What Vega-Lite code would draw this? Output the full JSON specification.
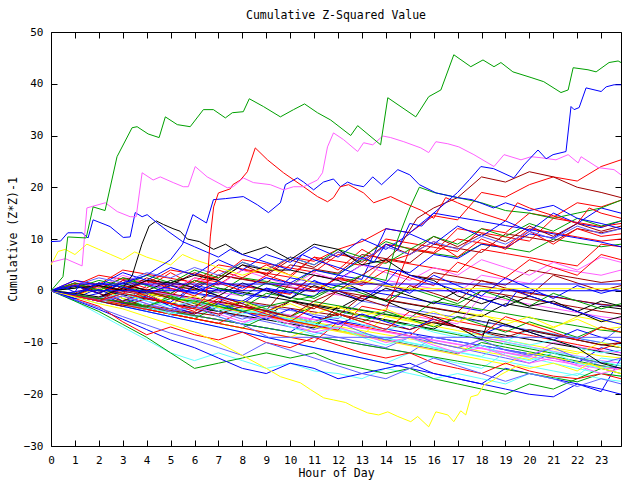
{
"$schema":"https://vega.github.io/schema/vega-lite/v6.json",
"width":570,"height":414,
"autosize":{"type":"none"},
"padding":{"left":51,"top":32,"right":19,"bottom":34},
"background":"#ffffff",
"title":{"text":"Cumulative Z-Squared Value","font":"DejaVu Sans Mono","fontSize":11.5,"fontWeight":"normal","color":"#000000","anchor":"middle","offset":5},
"config":{"view":{"stroke":"#000000","strokeWidth":1},
"axis":{"domain":false,"grid":false,"ticks":true,"tickSize":-6,"tickColor":"#000000","tickWidth":1,"labelFont":"DejaVu Sans Mono","labelFontSize":11,"labelColor":"#000000","labelPadding":14,"labelFlush":false,"labelOverlap":false,"titleFont":"DejaVu Sans Mono","titleFontSize":11.5,"titleFontWeight":"normal","titleColor":"#000000"}},
"data":{"values":[
{"s":"x1","h":0,"v":0},{"s":"x1","h":1,"v":-0.8},{"s":"x1","h":2,"v":-1.5},{"s":"x1","h":3,"v":0.5},{"s":"x1","h":4,"v":-0.2},{"s":"x1","h":5,"v":-1},{"s":"x1","h":6,"v":2},{"s":"x1","h":7,"v":1.2},{"s":"x1","h":8,"v":4},{"s":"x1","h":9,"v":3.3},{"s":"x1","h":10,"v":6.5},{"s":"x1","h":11,"v":5.7},{"s":"x1","h":12,"v":8},{"s":"x1","h":13,"v":9.5},{"s":"x1","h":14,"v":12},{"s":"x1","h":15,"v":11.2},{"s":"x1","h":16,"v":14.5},{"s":"x1","h":17,"v":13.7},{"s":"x1","h":18,"v":19},{"s":"x1","h":19,"v":18.1},{"s":"x1","h":20,"v":20.5},{"s":"x1","h":21,"v":22},{"s":"x1","h":22,"v":21.2},{"s":"x1","h":23,"v":24},{"s":"x1","h":23.83,"v":25.3},
{"s":"x2","h":0,"v":0},{"s":"x2","h":1,"v":1},{"s":"x2","h":2,"v":0.2},{"s":"x2","h":3,"v":-0.5},{"s":"x2","h":4,"v":-1.3},{"s":"x2","h":5,"v":1},{"s":"x2","h":6,"v":0.3},{"s":"x2","h":7,"v":-0.4},{"s":"x2","h":8,"v":2.5},{"s":"x2","h":9,"v":1.8},{"s":"x2","h":10,"v":1},{"s":"x2","h":11,"v":4},{"s":"x2","h":12,"v":3.2},{"s":"x2","h":13,"v":6},{"s":"x2","h":14,"v":5.3},{"s":"x2","h":15,"v":8},{"s":"x2","h":16,"v":7.2},{"s":"x2","h":17,"v":6.5},{"s":"x2","h":18,"v":9},{"s":"x2","h":19,"v":8.3},{"s":"x2","h":20,"v":7.5},{"s":"x2","h":21,"v":10},{"s":"x2","h":22,"v":9.2},{"s":"x2","h":23,"v":8.5},{"s":"x2","h":23.83,"v":9},
{"s":"x3","h":0,"v":0},{"s":"x3","h":1,"v":-0.9},{"s":"x3","h":2,"v":-1.7},{"s":"x3","h":3,"v":-2.5},{"s":"x3","h":4,"v":0},{"s":"x3","h":5,"v":-0.7},{"s":"x3","h":6,"v":-1.5},{"s":"x3","h":7,"v":-2.3},{"s":"x3","h":8,"v":1},{"s":"x3","h":9,"v":0.2},{"s":"x3","h":10,"v":-0.5},{"s":"x3","h":11,"v":3},{"s":"x3","h":12,"v":2.2},{"s":"x3","h":13,"v":5},{"s":"x3","h":14,"v":4.3},{"s":"x3","h":15,"v":3.5},{"s":"x3","h":16,"v":7},{"s":"x3","h":17,"v":6.2},{"s":"x3","h":18,"v":9},{"s":"x3","h":19,"v":8.3},{"s":"x3","h":20,"v":11},{"s":"x3","h":21,"v":10.2},{"s":"x3","h":22,"v":13},{"s":"x3","h":23,"v":12.2},{"s":"x3","h":23.83,"v":13.5},
{"s":"x4","h":0,"v":0},{"s":"x4","h":1,"v":0.8},{"s":"x4","h":2,"v":0},{"s":"x4","h":3,"v":-0.8},{"s":"x4","h":4,"v":2},{"s":"x4","h":5,"v":1.3},{"s":"x4","h":6,"v":0.5},{"s":"x4","h":7,"v":-0.3},{"s":"x4","h":8,"v":-1},{"s":"x4","h":9,"v":1.5},{"s":"x4","h":10,"v":0.8},{"s":"x4","h":11,"v":0},{"s":"x4","h":12,"v":-0.8},{"s":"x4","h":13,"v":-1.6},{"s":"x4","h":14,"v":2},{"s":"x4","h":15,"v":1.2},{"s":"x4","h":16,"v":0.4},{"s":"x4","h":17,"v":-0.4},{"s":"x4","h":18,"v":3},{"s":"x4","h":19,"v":2.2},{"s":"x4","h":20,"v":1.4},{"s":"x4","h":21,"v":4.5},{"s":"x4","h":22,"v":3.7},{"s":"x4","h":23,"v":3},{"s":"x4","h":23.83,"v":4},
{"s":"x5","h":0,"v":0},{"s":"x5","h":1,"v":-0.9},{"s":"x5","h":2,"v":-1.8},{"s":"x5","h":3,"v":-2.6},{"s":"x5","h":4,"v":-3.4},{"s":"x5","h":5,"v":-4.2},{"s":"x5","h":6,"v":-5},{"s":"x5","h":7,"v":-3},{"s":"x5","h":8,"v":-3.8},{"s":"x5","h":9,"v":-4.6},{"s":"x5","h":10,"v":-5.4},{"s":"x5","h":11,"v":-6.2},{"s":"x5","h":12,"v":-7},{"s":"x5","h":13,"v":-5},{"s":"x5","h":14,"v":-5.8},{"s":"x5","h":15,"v":-6.6},{"s":"x5","h":16,"v":-7.4},{"s":"x5","h":17,"v":-8.2},{"s":"x5","h":18,"v":-9},{"s":"x5","h":19,"v":-9.8},{"s":"x5","h":20,"v":-7.5},{"s":"x5","h":21,"v":-8.3},{"s":"x5","h":22,"v":-9.1},{"s":"x5","h":23,"v":-10},{"s":"x5","h":23.83,"v":-10.5},
{"s":"x6","h":0,"v":0},{"s":"x6","h":1,"v":1.2},{"s":"x6","h":2,"v":0.4},{"s":"x6","h":3,"v":2.5},{"s":"x6","h":4,"v":1.8},{"s":"x6","h":5,"v":1},{"s":"x6","h":6,"v":0.2},{"s":"x6","h":7,"v":3},{"s":"x6","h":8,"v":2.3},{"s":"x6","h":9,"v":1.5},{"s":"x6","h":10,"v":5},{"s":"x6","h":11,"v":4.2},{"s":"x6","h":12,"v":3.4},{"s":"x6","h":13,"v":7},{"s":"x6","h":14,"v":6.2},{"s":"x6","h":15,"v":5.4},{"s":"x6","h":16,"v":9},{"s":"x6","h":17,"v":8.2},{"s":"x6","h":18,"v":7.4},{"s":"x6","h":19,"v":11},{"s":"x6","h":20,"v":10.3},{"s":"x6","h":21,"v":9.5},{"s":"x6","h":22,"v":12},{"s":"x6","h":23,"v":11.2},{"s":"x6","h":23.83,"v":12},
{"s":"x7","h":0,"v":0},{"s":"x7","h":1,"v":-0.8},{"s":"x7","h":2,"v":-1.6},{"s":"x7","h":3,"v":-2.4},{"s":"x7","h":4,"v":-3.2},{"s":"x7","h":5,"v":-1},{"s":"x7","h":6,"v":-1.8},{"s":"x7","h":7,"v":-2.6},{"s":"x7","h":8,"v":-3.4},{"s":"x7","h":9,"v":-4.2},{"s":"x7","h":10,"v":-5},{"s":"x7","h":11,"v":-2.5},{"s":"x7","h":12,"v":-3.3},{"s":"x7","h":13,"v":-4.1},{"s":"x7","h":14,"v":-4.9},{"s":"x7","h":15,"v":-5.7},{"s":"x7","h":16,"v":-6.5},{"s":"x7","h":17,"v":-4},{"s":"x7","h":18,"v":-4.8},{"s":"x7","h":19,"v":-5.6},{"s":"x7","h":20,"v":-6.4},{"s":"x7","h":21,"v":-7.2},{"s":"x7","h":22,"v":-5},{"s":"x7","h":23,"v":-5.8},{"s":"x7","h":23.83,"v":-6.3},
{"s":"x8","h":0,"v":0},{"s":"x8","h":1,"v":-0.8},{"s":"x8","h":2,"v":1},{"s":"x8","h":3,"v":0.2},{"s":"x8","h":4,"v":-0.6},{"s":"x8","h":5,"v":-1.4},{"s":"x8","h":6,"v":-2.2},{"s":"x8","h":7,"v":0.5},{"s":"x8","h":8,"v":-0.3},{"s":"x8","h":9,"v":-1.1},{"s":"x8","h":10,"v":-1.9},{"s":"x8","h":11,"v":-2.7},{"s":"x8","h":12,"v":-3.5},{"s":"x8","h":13,"v":-1},{"s":"x8","h":14,"v":-1.8},{"s":"x8","h":15,"v":-2.6},{"s":"x8","h":16,"v":-3.4},{"s":"x8","h":17,"v":-4.2},{"s":"x8","h":18,"v":-5},{"s":"x8","h":19,"v":-2.5},{"s":"x8","h":20,"v":-3.3},{"s":"x8","h":21,"v":-4.1},{"s":"x8","h":22,"v":-4.9},{"s":"x8","h":23,"v":-3},{"s":"x8","h":23.83,"v":-3.5},
{"s":"x9","h":0,"v":0},{"s":"x9","h":1,"v":-1},{"s":"x9","h":2,"v":-2},{"s":"x9","h":3,"v":-3},{"s":"x9","h":4,"v":-4},{"s":"x9","h":5,"v":-5},{"s":"x9","h":6,"v":-3},{"s":"x9","h":7,"v":-4},{"s":"x9","h":8,"v":-5},{"s":"x9","h":9,"v":-6},{"s":"x9","h":10,"v":-7},{"s":"x9","h":11,"v":-8},{"s":"x9","h":12,"v":-9},{"s":"x9","h":13,"v":-10},{"s":"x9","h":14,"v":-11},{"s":"x9","h":15,"v":-9},{"s":"x9","h":16,"v":-10},{"s":"x9","h":17,"v":-11},{"s":"x9","h":18,"v":-12},{"s":"x9","h":19,"v":-13},{"s":"x9","h":20,"v":-14},{"s":"x9","h":21,"v":-12},{"s":"x9","h":22,"v":-13},{"s":"x9","h":23,"v":-14.5},{"s":"x9","h":23.83,"v":-15},
{"s":"x10","h":0,"v":0},{"s":"x10","h":1,"v":-0.8},{"s":"x10","h":2,"v":-1.6},{"s":"x10","h":3,"v":1},{"s":"x10","h":4,"v":0.2},{"s":"x10","h":5,"v":-0.6},{"s":"x10","h":6,"v":2.5},{"s":"x10","h":7,"v":1.7},{"s":"x10","h":8,"v":0.9},{"s":"x10","h":9,"v":0.1},{"s":"x10","h":10,"v":-0.7},{"s":"x10","h":11,"v":3},{"s":"x10","h":12,"v":2.2},{"s":"x10","h":13,"v":1.4},{"s":"x10","h":14,"v":6},{"s":"x10","h":15,"v":5.2},{"s":"x10","h":16,"v":4.4},{"s":"x10","h":17,"v":3.6},{"s":"x10","h":18,"v":8},{"s":"x10","h":19,"v":7.2},{"s":"x10","h":20,"v":6.4},{"s":"x10","h":21,"v":5.6},{"s":"x10","h":22,"v":4.8},{"s":"x10","h":23,"v":9},{"s":"x10","h":23.83,"v":8.5},
{"s":"x11","h":0,"v":0},{"s":"x11","h":1,"v":-0.9},{"s":"x11","h":2,"v":-1.8},{"s":"x11","h":3,"v":-2.7},{"s":"x11","h":4,"v":-3.6},{"s":"x11","h":5,"v":-4.5},{"s":"x11","h":6,"v":-5.4},{"s":"x11","h":7,"v":-6.3},{"s":"x11","h":8,"v":-7.2},{"s":"x11","h":9,"v":-5},{"s":"x11","h":10,"v":-5.9},{"s":"x11","h":11,"v":-6.8},{"s":"x11","h":12,"v":-7.7},{"s":"x11","h":13,"v":-8.6},{"s":"x11","h":14,"v":-9.5},{"s":"x11","h":15,"v":-10.4},{"s":"x11","h":16,"v":-11.3},{"s":"x11","h":17,"v":-12.2},{"s":"x11","h":18,"v":-10},{"s":"x11","h":19,"v":-10.9},{"s":"x11","h":20,"v":-11.8},{"s":"x11","h":21,"v":-12.7},{"s":"x11","h":22,"v":-13.6},{"s":"x11","h":23,"v":-14.5},{"s":"x11","h":23.83,"v":-15},
{"s":"x12","h":0,"v":0},{"s":"x12","h":1,"v":-0.8},{"s":"x12","h":2,"v":-1.6},{"s":"x12","h":3,"v":-2.4},{"s":"x12","h":4,"v":-3.2},{"s":"x12","h":5,"v":-4},{"s":"x12","h":6,"v":-4.8},{"s":"x12","h":7,"v":-5.6},{"s":"x12","h":8,"v":-6.4},{"s":"x12","h":9,"v":-7.2},{"s":"x12","h":10,"v":-8},{"s":"x12","h":11,"v":-5},{"s":"x12","h":12,"v":-5.8},{"s":"x12","h":13,"v":-6.6},{"s":"x12","h":14,"v":-7.4},{"s":"x12","h":15,"v":-8.2},{"s":"x12","h":16,"v":-9},{"s":"x12","h":17,"v":-9.8},{"s":"x12","h":18,"v":-10.6},{"s":"x12","h":19,"v":-11.4},{"s":"x12","h":20,"v":-12.2},{"s":"x12","h":21,"v":-13},{"s":"x12","h":22,"v":-14},{"s":"x12","h":23,"v":-11},{"s":"x12","h":23.83,"v":-12},
{"s":"x13","h":0,"v":0},{"s":"x13","h":1,"v":-0.9},{"s":"x13","h":2,"v":-1.8},{"s":"x13","h":3,"v":-2.7},{"s":"x13","h":4,"v":-3.6},{"s":"x13","h":5,"v":-1.5},{"s":"x13","h":6,"v":-2.4},{"s":"x13","h":7,"v":-3.3},{"s":"x13","h":8,"v":-4.2},{"s":"x13","h":9,"v":-5.1},{"s":"x13","h":10,"v":-6},{"s":"x13","h":11,"v":-6.9},{"s":"x13","h":12,"v":-7.8},{"s":"x13","h":13,"v":-8.7},{"s":"x13","h":14,"v":-9.6},{"s":"x13","h":15,"v":-10.5},{"s":"x13","h":16,"v":-11.4},{"s":"x13","h":17,"v":-12.3},{"s":"x13","h":18,"v":-9},{"s":"x13","h":19,"v":-9.9},{"s":"x13","h":20,"v":-10.8},{"s":"x13","h":21,"v":-11.7},{"s":"x13","h":22,"v":-12.6},{"s":"x13","h":23,"v":-13.5},{"s":"x13","h":23.83,"v":-14},
{"s":"x14","h":0,"v":0},{"s":"x14","h":1,"v":-1},{"s":"x14","h":2,"v":-2},{"s":"x14","h":3,"v":-3},{"s":"x14","h":4,"v":-4},{"s":"x14","h":5,"v":-5},{"s":"x14","h":6,"v":-6},{"s":"x14","h":7,"v":-7},{"s":"x14","h":8,"v":-8},{"s":"x14","h":9,"v":-9},{"s":"x14","h":10,"v":-10},{"s":"x14","h":11,"v":-11},{"s":"x14","h":12,"v":-12},{"s":"x14","h":13,"v":-13},{"s":"x14","h":14,"v":-14},{"s":"x14","h":15,"v":-12},{"s":"x14","h":16,"v":-13},{"s":"x14","h":17,"v":-14},{"s":"x14","h":18,"v":-15},{"s":"x14","h":19,"v":-12},{"s":"x14","h":20,"v":-13},{"s":"x14","h":21,"v":-14},{"s":"x14","h":22,"v":-15},{"s":"x14","h":23,"v":-16},{"s":"x14","h":23.83,"v":-16.5},
{"s":"x15","h":0,"v":0},{"s":"x15","h":1,"v":1.5},{"s":"x15","h":2,"v":0.7},{"s":"x15","h":3,"v":-0.1},{"s":"x15","h":4,"v":-0.9},{"s":"x15","h":5,"v":1.5},{"s":"x15","h":6,"v":0.7},{"s":"x15","h":7,"v":3},{"s":"x15","h":8,"v":2.2},{"s":"x15","h":9,"v":1.4},{"s":"x15","h":10,"v":0.6},{"s":"x15","h":11,"v":-0.2},{"s":"x15","h":12,"v":2.5},{"s":"x15","h":13,"v":1.7},{"s":"x15","h":14,"v":0.9},{"s":"x15","h":15,"v":0.1},{"s":"x15","h":16,"v":3.5},{"s":"x15","h":17,"v":2.7},{"s":"x15","h":18,"v":1.9},{"s":"x15","h":19,"v":1.1},{"s":"x15","h":20,"v":4},{"s":"x15","h":21,"v":3.2},{"s":"x15","h":22,"v":2.4},{"s":"x15","h":23,"v":1.6},{"s":"x15","h":23.83,"v":2},
{"s":"x16","h":0,"v":0},{"s":"x16","h":1,"v":-0.8},{"s":"x16","h":2,"v":-1.6},{"s":"x16","h":3,"v":-2.4},{"s":"x16","h":4,"v":-0.5},{"s":"x16","h":5,"v":-1.3},{"s":"x16","h":6,"v":-2.1},{"s":"x16","h":7,"v":-2.9},{"s":"x16","h":8,"v":-3.7},{"s":"x16","h":9,"v":-4.5},{"s":"x16","h":10,"v":-5.3},{"s":"x16","h":11,"v":-6.1},{"s":"x16","h":12,"v":-6.9},{"s":"x16","h":13,"v":-7.7},{"s":"x16","h":14,"v":-8.5},{"s":"x16","h":15,"v":-9.3},{"s":"x16","h":16,"v":-10.1},{"s":"x16","h":17,"v":-10.9},{"s":"x16","h":18,"v":-11.7},{"s":"x16","h":19,"v":-12.5},{"s":"x16","h":20,"v":-13.3},{"s":"x16","h":21,"v":-11},{"s":"x16","h":22,"v":-11.8},{"s":"x16","h":23,"v":-12.6},{"s":"x16","h":23.83,"v":-13},
{"s":"x17","h":0,"v":0},{"s":"x17","h":1,"v":-0.9},{"s":"x17","h":2,"v":-1.8},{"s":"x17","h":3,"v":0.5},{"s":"x17","h":4,"v":-0.4},{"s":"x17","h":5,"v":-1.3},{"s":"x17","h":6,"v":-2.2},{"s":"x17","h":7,"v":-3.1},{"s":"x17","h":8,"v":-4},{"s":"x17","h":9,"v":-4.9},{"s":"x17","h":10,"v":-2},{"s":"x17","h":11,"v":-2.9},{"s":"x17","h":12,"v":-3.8},{"s":"x17","h":13,"v":-4.7},{"s":"x17","h":14,"v":-5.6},{"s":"x17","h":15,"v":-6.5},{"s":"x17","h":16,"v":-7.4},{"s":"x17","h":17,"v":-5},{"s":"x17","h":18,"v":-5.9},{"s":"x17","h":19,"v":-6.8},{"s":"x17","h":20,"v":-7.7},{"s":"x17","h":21,"v":-8.6},{"s":"x17","h":22,"v":-9.5},{"s":"x17","h":23,"v":-10.4},{"s":"x17","h":23.83,"v":-11},
{"s":"x18","h":0,"v":0},{"s":"x18","h":1,"v":-0.8},{"s":"x18","h":2,"v":-1.6},{"s":"x18","h":3,"v":-2.4},{"s":"x18","h":4,"v":-3.2},{"s":"x18","h":5,"v":-4},{"s":"x18","h":6,"v":-4.8},{"s":"x18","h":7,"v":-5.6},{"s":"x18","h":8,"v":-6.4},{"s":"x18","h":9,"v":-7.2},{"s":"x18","h":10,"v":-8},{"s":"x18","h":11,"v":-8.8},{"s":"x18","h":12,"v":-9.6},{"s":"x18","h":13,"v":-10.4},{"s":"x18","h":14,"v":-11.2},{"s":"x18","h":15,"v":-12},{"s":"x18","h":16,"v":-9},{"s":"x18","h":17,"v":-9.8},{"s":"x18","h":18,"v":-10.6},{"s":"x18","h":19,"v":-11.4},{"s":"x18","h":20,"v":-12.2},{"s":"x18","h":21,"v":-13},{"s":"x18","h":22,"v":-13.8},{"s":"x18","h":23,"v":-14.6},{"s":"x18","h":23.83,"v":-15},
{"s":"x19","h":0,"v":0},{"s":"x19","h":1,"v":2},{"s":"x19","h":2,"v":1.2},{"s":"x19","h":3,"v":4},{"s":"x19","h":4,"v":3.2},{"s":"x19","h":5,"v":2.4},{"s":"x19","h":6,"v":1.6},{"s":"x19","h":7,"v":5},{"s":"x19","h":8,"v":4.2},{"s":"x19","h":9,"v":3.4},{"s":"x19","h":10,"v":2.6},{"s":"x19","h":11,"v":6.5},{"s":"x19","h":12,"v":5.7},{"s":"x19","h":13,"v":4.9},{"s":"x19","h":14,"v":9},{"s":"x19","h":15,"v":8.2},{"s":"x19","h":16,"v":7.4},{"s":"x19","h":17,"v":12},{"s":"x19","h":18,"v":11.2},{"s":"x19","h":19,"v":10.4},{"s":"x19","h":20,"v":9.6},{"s":"x19","h":21,"v":14},{"s":"x19","h":22,"v":13.2},{"s":"x19","h":23,"v":12.4},{"s":"x19","h":23.83,"v":13},
{"s":"x20","h":0,"v":0},{"s":"x20","h":1,"v":-0.9},{"s":"x20","h":2,"v":-1.8},{"s":"x20","h":3,"v":-2.7},{"s":"x20","h":4,"v":-3.6},{"s":"x20","h":5,"v":-4.5},{"s":"x20","h":6,"v":-5.4},{"s":"x20","h":7,"v":-3},{"s":"x20","h":8,"v":-3.9},{"s":"x20","h":9,"v":-4.8},{"s":"x20","h":10,"v":-5.7},{"s":"x20","h":11,"v":-6.6},{"s":"x20","h":12,"v":-4},{"s":"x20","h":13,"v":-4.9},{"s":"x20","h":14,"v":-5.8},{"s":"x20","h":15,"v":-6.7},{"s":"x20","h":16,"v":-7.6},{"s":"x20","h":17,"v":-8.5},{"s":"x20","h":18,"v":-9.4},{"s":"x20","h":19,"v":-10.3},{"s":"x20","h":20,"v":-11.2},{"s":"x20","h":21,"v":-12.1},{"s":"x20","h":22,"v":-13},{"s":"x20","h":23,"v":-13.9},{"s":"x20","h":23.83,"v":-14.5},
{"s":"x21","h":0,"v":0},{"s":"x21","h":1,"v":1},{"s":"x21","h":2,"v":0.2},{"s":"x21","h":3,"v":-0.6},{"s":"x21","h":4,"v":-1.4},{"s":"x21","h":5,"v":-2.2},{"s":"x21","h":6,"v":1},{"s":"x21","h":7,"v":0.2},{"s":"x21","h":8,"v":-0.6},{"s":"x21","h":9,"v":-1.4},{"s":"x21","h":10,"v":2.5},{"s":"x21","h":11,"v":1.7},{"s":"x21","h":12,"v":0.9},{"s":"x21","h":13,"v":0.1},{"s":"x21","h":14,"v":-0.7},{"s":"x21","h":15,"v":-1.5},{"s":"x21","h":16,"v":-2.3},{"s":"x21","h":17,"v":-3.1},{"s":"x21","h":18,"v":-3.9},{"s":"x21","h":19,"v":0.5},{"s":"x21","h":20,"v":-0.3},{"s":"x21","h":21,"v":-1.1},{"s":"x21","h":22,"v":-1.9},{"s":"x21","h":23,"v":-2.7},{"s":"x21","h":23.83,"v":-3},
{"s":"x22","h":0,"v":0},{"s":"x22","h":1,"v":-0.8},{"s":"x22","h":2,"v":-1.6},{"s":"x22","h":3,"v":-2.4},{"s":"x22","h":4,"v":-3.2},{"s":"x22","h":5,"v":-4},{"s":"x22","h":6,"v":-4.8},{"s":"x22","h":7,"v":-5.6},{"s":"x22","h":8,"v":-6.4},{"s":"x22","h":9,"v":-4},{"s":"x22","h":10,"v":-4.8},{"s":"x22","h":11,"v":-5.6},{"s":"x22","h":12,"v":-6.4},{"s":"x22","h":13,"v":-7.2},{"s":"x22","h":14,"v":-8},{"s":"x22","h":15,"v":-8.8},{"s":"x22","h":16,"v":-9.6},{"s":"x22","h":17,"v":-10.4},{"s":"x22","h":18,"v":-11.2},{"s":"x22","h":19,"v":-12},{"s":"x22","h":20,"v":-12.8},{"s":"x22","h":21,"v":-10},{"s":"x22","h":22,"v":-10.8},{"s":"x22","h":23,"v":-11.6},{"s":"x22","h":23.83,"v":-12},
{"s":"x23","h":0,"v":0},{"s":"x23","h":1,"v":-0.9},{"s":"x23","h":2,"v":-1.8},{"s":"x23","h":3,"v":-2.7},{"s":"x23","h":4,"v":-3.6},{"s":"x23","h":5,"v":-4.5},{"s":"x23","h":6,"v":-2},{"s":"x23","h":7,"v":-2.9},{"s":"x23","h":8,"v":-3.8},{"s":"x23","h":9,"v":-4.7},{"s":"x23","h":10,"v":-5.6},{"s":"x23","h":11,"v":-6.5},{"s":"x23","h":12,"v":-7.4},{"s":"x23","h":13,"v":-8.3},{"s":"x23","h":14,"v":-9.2},{"s":"x23","h":15,"v":-10.1},{"s":"x23","h":16,"v":-11},{"s":"x23","h":17,"v":-11.9},{"s":"x23","h":18,"v":-12.8},{"s":"x23","h":19,"v":-13.7},{"s":"x23","h":20,"v":-14.6},{"s":"x23","h":21,"v":-15.5},{"s":"x23","h":22,"v":-16.4},{"s":"x23","h":23,"v":-13},{"s":"x23","h":23.83,"v":-13.5},
{"s":"x24","h":0,"v":0},{"s":"x24","h":1,"v":-0.7},{"s":"x24","h":2,"v":-1.4},{"s":"x24","h":3,"v":-2.1},{"s":"x24","h":4,"v":-2.8},{"s":"x24","h":5,"v":-3.5},{"s":"x24","h":6,"v":-4.2},{"s":"x24","h":7,"v":-4.9},{"s":"x24","h":8,"v":-2},{"s":"x24","h":9,"v":-2.7},{"s":"x24","h":10,"v":-3.4},{"s":"x24","h":11,"v":-4.1},{"s":"x24","h":12,"v":-4.8},{"s":"x24","h":13,"v":-1},{"s":"x24","h":14,"v":-1.7},{"s":"x24","h":15,"v":3},{"s":"x24","h":16,"v":2.3},{"s":"x24","h":17,"v":1.6},{"s":"x24","h":18,"v":0.9},{"s":"x24","h":19,"v":0.2},{"s":"x24","h":20,"v":-0.5},{"s":"x24","h":21,"v":-1.2},{"s":"x24","h":22,"v":-1.9},{"s":"x24","h":23,"v":-2.6},{"s":"x24","h":23.83,"v":-3},
{"s":"x25","h":0,"v":0},{"s":"x25","h":1,"v":-0.9},{"s":"x25","h":2,"v":-1.8},{"s":"x25","h":3,"v":-2.7},{"s":"x25","h":4,"v":-3.6},{"s":"x25","h":5,"v":-4.5},{"s":"x25","h":6,"v":-5.4},{"s":"x25","h":7,"v":-6.3},{"s":"x25","h":8,"v":-7.2},{"s":"x25","h":9,"v":-8.1},{"s":"x25","h":10,"v":-9},{"s":"x25","h":11,"v":-7},{"s":"x25","h":12,"v":-7.9},{"s":"x25","h":13,"v":-8.8},{"s":"x25","h":14,"v":-9.7},{"s":"x25","h":15,"v":-10.6},{"s":"x25","h":16,"v":-11.5},{"s":"x25","h":17,"v":-12.4},{"s":"x25","h":18,"v":-13.3},{"s":"x25","h":19,"v":-14.2},{"s":"x25","h":20,"v":-12},{"s":"x25","h":21,"v":-12.9},{"s":"x25","h":22,"v":-13.8},{"s":"x25","h":23,"v":-14.7},{"s":"x25","h":23.83,"v":-15.3},
{"s":"x26","h":0,"v":0},{"s":"x26","h":1,"v":0.8},{"s":"x26","h":2,"v":0},{"s":"x26","h":3,"v":-0.8},{"s":"x26","h":4,"v":-1.6},{"s":"x26","h":5,"v":-2.4},{"s":"x26","h":6,"v":-3.2},{"s":"x26","h":7,"v":-4},{"s":"x26","h":8,"v":-4.8},{"s":"x26","h":9,"v":-5.6},{"s":"x26","h":10,"v":-6.4},{"s":"x26","h":11,"v":-7.2},{"s":"x26","h":12,"v":-3},{"s":"x26","h":13,"v":-3.8},{"s":"x26","h":14,"v":-4.6},{"s":"x26","h":15,"v":-5.4},{"s":"x26","h":16,"v":-6.2},{"s":"x26","h":17,"v":-7},{"s":"x26","h":18,"v":-7.8},{"s":"x26","h":19,"v":-8.6},{"s":"x26","h":20,"v":-9.4},{"s":"x26","h":21,"v":-10.2},{"s":"x26","h":22,"v":-11},{"s":"x26","h":23,"v":-11.8},{"s":"x26","h":23.83,"v":-12.5},
{"s":"x27","h":0,"v":0},{"s":"x27","h":1,"v":-0.8},{"s":"x27","h":2,"v":-1.6},{"s":"x27","h":3,"v":-2.4},{"s":"x27","h":4,"v":1},{"s":"x27","h":5,"v":0.2},{"s":"x27","h":6,"v":-0.6},{"s":"x27","h":7,"v":-1.4},{"s":"x27","h":8,"v":-2.2},{"s":"x27","h":9,"v":-3},{"s":"x27","h":10,"v":-3.8},{"s":"x27","h":11,"v":-4.6},{"s":"x27","h":12,"v":-5.4},{"s":"x27","h":13,"v":-2},{"s":"x27","h":14,"v":-2.8},{"s":"x27","h":15,"v":-3.6},{"s":"x27","h":16,"v":-4.4},{"s":"x27","h":17,"v":-5.2},{"s":"x27","h":18,"v":-6},{"s":"x27","h":19,"v":-6.8},{"s":"x27","h":20,"v":-7.6},{"s":"x27","h":21,"v":-8.4},{"s":"x27","h":22,"v":-9.2},{"s":"x27","h":23,"v":-10},{"s":"x27","h":23.83,"v":-7},
{"s":"x28","h":0,"v":0},{"s":"x28","h":1,"v":-0.9},{"s":"x28","h":2,"v":-1.8},{"s":"x28","h":3,"v":-2.7},{"s":"x28","h":4,"v":-3.6},{"s":"x28","h":5,"v":-4.5},{"s":"x28","h":6,"v":-5.4},{"s":"x28","h":7,"v":-6.3},{"s":"x28","h":8,"v":-7.2},{"s":"x28","h":9,"v":-8.1},{"s":"x28","h":10,"v":-9},{"s":"x28","h":11,"v":-9.9},{"s":"x28","h":12,"v":-6},{"s":"x28","h":13,"v":-6.9},{"s":"x28","h":14,"v":-7.8},{"s":"x28","h":15,"v":-8.7},{"s":"x28","h":16,"v":-5},{"s":"x28","h":17,"v":-5.9},{"s":"x28","h":18,"v":-6.8},{"s":"x28","h":19,"v":-7.7},{"s":"x28","h":20,"v":-8.6},{"s":"x28","h":21,"v":-9.5},{"s":"x28","h":22,"v":-10.4},{"s":"x28","h":23,"v":-11.3},{"s":"x28","h":23.83,"v":-10},
{"s":"x29","h":0,"v":0},{"s":"x29","h":1,"v":-0.8},{"s":"x29","h":2,"v":1.5},{"s":"x29","h":3,"v":0.7},{"s":"x29","h":4,"v":-0.1},{"s":"x29","h":5,"v":-0.9},{"s":"x29","h":6,"v":-1.7},{"s":"x29","h":7,"v":-2.5},{"s":"x29","h":8,"v":-3.3},{"s":"x29","h":9,"v":-0.5},{"s":"x29","h":10,"v":-1.3},{"s":"x29","h":11,"v":-2.1},{"s":"x29","h":12,"v":-2.9},{"s":"x29","h":13,"v":-3.7},{"s":"x29","h":14,"v":-4.5},{"s":"x29","h":15,"v":-5.3},{"s":"x29","h":16,"v":-2},{"s":"x29","h":17,"v":-2.8},{"s":"x29","h":18,"v":-3.6},{"s":"x29","h":19,"v":-4.4},{"s":"x29","h":20,"v":-5.2},{"s":"x29","h":21,"v":-6},{"s":"x29","h":22,"v":-6.8},{"s":"x29","h":23,"v":-7.6},{"s":"x29","h":23.83,"v":-8},
{"s":"x30","h":0,"v":0},{"s":"x30","h":1,"v":-1},{"s":"x30","h":2,"v":-2},{"s":"x30","h":3,"v":-3},{"s":"x30","h":4,"v":-4},{"s":"x30","h":5,"v":-5},{"s":"x30","h":6,"v":-6},{"s":"x30","h":7,"v":-7},{"s":"x30","h":8,"v":-8},{"s":"x30","h":9,"v":-9},{"s":"x30","h":10,"v":-10},{"s":"x30","h":11,"v":-11},{"s":"x30","h":12,"v":-12},{"s":"x30","h":13,"v":-13},{"s":"x30","h":14,"v":-14},{"s":"x30","h":15,"v":-15},{"s":"x30","h":16,"v":-16},{"s":"x30","h":17,"v":-17},{"s":"x30","h":18,"v":-18},{"s":"x30","h":19,"v":-15},{"s":"x30","h":20,"v":-16},{"s":"x30","h":21,"v":-17},{"s":"x30","h":22,"v":-18},{"s":"x30","h":23,"v":-19.5},{"s":"x30","h":23.83,"v":-13},
{"s":"x31","h":0,"v":0},{"s":"x31","h":1,"v":-0.8},{"s":"x31","h":2,"v":-1.6},{"s":"x31","h":3,"v":-2.4},{"s":"x31","h":4,"v":-3.2},{"s":"x31","h":5,"v":-4},{"s":"x31","h":6,"v":-1.5},{"s":"x31","h":7,"v":-2.3},{"s":"x31","h":8,"v":-3.1},{"s":"x31","h":9,"v":-3.9},{"s":"x31","h":10,"v":-4.7},{"s":"x31","h":11,"v":-5.5},{"s":"x31","h":12,"v":-6.3},{"s":"x31","h":13,"v":-7.1},{"s":"x31","h":14,"v":-7.9},{"s":"x31","h":15,"v":-8.7},{"s":"x31","h":16,"v":-9.5},{"s":"x31","h":17,"v":-10.3},{"s":"x31","h":18,"v":-11.1},{"s":"x31","h":19,"v":-11.9},{"s":"x31","h":20,"v":-12.7},{"s":"x31","h":21,"v":-13.5},{"s":"x31","h":22,"v":-14.3},{"s":"x31","h":23,"v":-15.1},{"s":"x31","h":23.83,"v":-15},
{"s":"x32","h":0,"v":0},{"s":"x32","h":1,"v":-0.9},{"s":"x32","h":2,"v":-1.8},{"s":"x32","h":3,"v":-2.7},{"s":"x32","h":4,"v":-3.6},{"s":"x32","h":5,"v":-1},{"s":"x32","h":6,"v":-1.9},{"s":"x32","h":7,"v":-2.8},{"s":"x32","h":8,"v":-3.7},{"s":"x32","h":9,"v":-4.6},{"s":"x32","h":10,"v":-5.5},{"s":"x32","h":11,"v":-6.4},{"s":"x32","h":12,"v":-7.3},{"s":"x32","h":13,"v":-8.2},{"s":"x32","h":14,"v":-9.1},{"s":"x32","h":15,"v":-10},{"s":"x32","h":16,"v":-10.9},{"s":"x32","h":17,"v":-11.8},{"s":"x32","h":18,"v":-12.7},{"s":"x32","h":19,"v":-10},{"s":"x32","h":20,"v":-10.9},{"s":"x32","h":21,"v":-11.8},{"s":"x32","h":22,"v":-12.7},{"s":"x32","h":23,"v":-13.6},{"s":"x32","h":23.83,"v":-14.5},
{"s":"x33","h":0,"v":0},{"s":"x33","h":1,"v":-0.8},{"s":"x33","h":2,"v":-1.6},{"s":"x33","h":3,"v":1},{"s":"x33","h":4,"v":0.2},{"s":"x33","h":5,"v":-0.6},{"s":"x33","h":6,"v":-1.4},{"s":"x33","h":7,"v":-2.2},{"s":"x33","h":8,"v":-3},{"s":"x33","h":9,"v":-3.8},{"s":"x33","h":10,"v":1.5},{"s":"x33","h":11,"v":0.7},{"s":"x33","h":12,"v":-0.1},{"s":"x33","h":13,"v":-0.9},{"s":"x33","h":14,"v":-1.7},{"s":"x33","h":15,"v":-2.5},{"s":"x33","h":16,"v":-3.3},{"s":"x33","h":17,"v":-4.1},{"s":"x33","h":18,"v":0},{"s":"x33","h":19,"v":-0.8},{"s":"x33","h":20,"v":-1.6},{"s":"x33","h":21,"v":-2.4},{"s":"x33","h":22,"v":-3.2},{"s":"x33","h":23,"v":-4},{"s":"x33","h":23.83,"v":-4.5},
{"s":"x34","h":0,"v":0},{"s":"x34","h":1,"v":-0.9},{"s":"x34","h":2,"v":-1.8},{"s":"x34","h":3,"v":-2.7},{"s":"x34","h":4,"v":-0.5},{"s":"x34","h":5,"v":-1.4},{"s":"x34","h":6,"v":-2.3},{"s":"x34","h":7,"v":-3.2},{"s":"x34","h":8,"v":-4.1},{"s":"x34","h":9,"v":-5},{"s":"x34","h":10,"v":-5.9},{"s":"x34","h":11,"v":-6.8},{"s":"x34","h":12,"v":-7.7},{"s":"x34","h":13,"v":-8.6},{"s":"x34","h":14,"v":-5},{"s":"x34","h":15,"v":-5.9},{"s":"x34","h":16,"v":-6.8},{"s":"x34","h":17,"v":-7.7},{"s":"x34","h":18,"v":-8.6},{"s":"x34","h":19,"v":-9.5},{"s":"x34","h":20,"v":-10.4},{"s":"x34","h":21,"v":-11.3},{"s":"x34","h":22,"v":-12.2},{"s":"x34","h":23,"v":-10},{"s":"x34","h":23.83,"v":-11},
{"s":"x35","h":0,"v":0},{"s":"x35","h":1,"v":1},{"s":"x35","h":2,"v":3},{"s":"x35","h":3,"v":2.2},{"s":"x35","h":4,"v":1.4},{"s":"x35","h":5,"v":4},{"s":"x35","h":6,"v":3.2},{"s":"x35","h":7,"v":2.4},{"s":"x35","h":8,"v":6},{"s":"x35","h":9,"v":5.2},{"s":"x35","h":10,"v":4.4},{"s":"x35","h":11,"v":3.6},{"s":"x35","h":12,"v":7},{"s":"x35","h":13,"v":6.2},{"s":"x35","h":14,"v":10},{"s":"x35","h":15,"v":9.2},{"s":"x35","h":16,"v":8.4},{"s":"x35","h":17,"v":7.6},{"s":"x35","h":18,"v":12},{"s":"x35","h":19,"v":11.2},{"s":"x35","h":20,"v":15},{"s":"x35","h":21,"v":14.2},{"s":"x35","h":22,"v":17},{"s":"x35","h":23,"v":16.2},{"s":"x35","h":23.83,"v":17.5},
{"s":"x36","h":0,"v":0},{"s":"x36","h":1,"v":-0.8},{"s":"x36","h":2,"v":-1.6},{"s":"x36","h":3,"v":-2.4},{"s":"x36","h":4,"v":-3.2},{"s":"x36","h":5,"v":-4},{"s":"x36","h":6,"v":-4.8},{"s":"x36","h":7,"v":-5.6},{"s":"x36","h":8,"v":-6.4},{"s":"x36","h":9,"v":-7.2},{"s":"x36","h":10,"v":-8},{"s":"x36","h":11,"v":-8.8},{"s":"x36","h":12,"v":-9.6},{"s":"x36","h":13,"v":-10.4},{"s":"x36","h":14,"v":-11.2},{"s":"x36","h":15,"v":-12},{"s":"x36","h":16,"v":-12.8},{"s":"x36","h":17,"v":-13.6},{"s":"x36","h":18,"v":-14.4},{"s":"x36","h":19,"v":-15.2},{"s":"x36","h":20,"v":-16},{"s":"x36","h":21,"v":-16.8},{"s":"x36","h":22,"v":-17.6},{"s":"x36","h":23,"v":-16},{"s":"x36","h":23.83,"v":-16.5},
{"s":"x37","h":0,"v":0},{"s":"x37","h":1,"v":-0.9},{"s":"x37","h":2,"v":-1.8},{"s":"x37","h":3,"v":-2.7},{"s":"x37","h":4,"v":-3.6},{"s":"x37","h":5,"v":-4.5},{"s":"x37","h":6,"v":-5.4},{"s":"x37","h":7,"v":-6.3},{"s":"x37","h":8,"v":-4},{"s":"x37","h":9,"v":-4.9},{"s":"x37","h":10,"v":-5.8},{"s":"x37","h":11,"v":-6.7},{"s":"x37","h":12,"v":-7.6},{"s":"x37","h":13,"v":-3},{"s":"x37","h":14,"v":-3.9},{"s":"x37","h":15,"v":8},{"s":"x37","h":16,"v":7.2},{"s":"x37","h":17,"v":10},{"s":"x37","h":18,"v":9.2},{"s":"x37","h":19,"v":8.4},{"s":"x37","h":20,"v":12},{"s":"x37","h":21,"v":11.2},{"s":"x37","h":22,"v":10.4},{"s":"x37","h":23,"v":9.6},{"s":"x37","h":23.83,"v":10},
{"s":"x38","h":0,"v":0},{"s":"x38","h":1,"v":-0.8},{"s":"x38","h":2,"v":-1.6},{"s":"x38","h":3,"v":2},{"s":"x38","h":4,"v":1.2},{"s":"x38","h":5,"v":0.4},{"s":"x38","h":6,"v":-0.4},{"s":"x38","h":7,"v":-1.2},{"s":"x38","h":8,"v":-2},{"s":"x38","h":9,"v":0.5},{"s":"x38","h":10,"v":-0.3},{"s":"x38","h":11,"v":-1.1},{"s":"x38","h":12,"v":3},{"s":"x38","h":13,"v":2.2},{"s":"x38","h":14,"v":12},{"s":"x38","h":15,"v":11.2},{"s":"x38","h":16,"v":15},{"s":"x38","h":17,"v":14.2},{"s":"x38","h":18,"v":13.4},{"s":"x38","h":19,"v":12.6},{"s":"x38","h":20,"v":11.8},{"s":"x38","h":21,"v":11},{"s":"x38","h":22,"v":10.2},{"s":"x38","h":23,"v":9.4},{"s":"x38","h":23.83,"v":8.5},
{"s":"x39","h":0,"v":0},{"s":"x39","h":1,"v":-0.8},{"s":"x39","h":2,"v":-1.6},{"s":"x39","h":3,"v":-2.4},{"s":"x39","h":4,"v":0},{"s":"x39","h":5,"v":-0.8},{"s":"x39","h":6,"v":-1.6},{"s":"x39","h":7,"v":-2.4},{"s":"x39","h":8,"v":-3.2},{"s":"x39","h":9,"v":-4},{"s":"x39","h":10,"v":-4.8},{"s":"x39","h":11,"v":-5.6},{"s":"x39","h":12,"v":-6.4},{"s":"x39","h":13,"v":-7.2},{"s":"x39","h":14,"v":-4},{"s":"x39","h":15,"v":-4.8},{"s":"x39","h":16,"v":-5.6},{"s":"x39","h":17,"v":-6.4},{"s":"x39","h":18,"v":-1},{"s":"x39","h":19,"v":-1.8},{"s":"x39","h":20,"v":-2.6},{"s":"x39","h":21,"v":-3.4},{"s":"x39","h":22,"v":-4.2},{"s":"x39","h":23,"v":-5},{"s":"x39","h":23.83,"v":-5.5},
{"s":"x40","h":0,"v":0},{"s":"x40","h":1,"v":-2},{"s":"x40","h":2,"v":-4.5},{"s":"x40","h":3,"v":-7},{"s":"x40","h":4,"v":-9.5},{"s":"x40","h":5,"v":-12},{"s":"x40","h":6,"v":-13.5},{"s":"x40","h":7,"v":-12},{"s":"x40","h":8,"v":-13.5},{"s":"x40","h":9,"v":-15},{"s":"x40","h":10,"v":-14},{"s":"x40","h":11,"v":-15.5},{"s":"x40","h":12,"v":-16},{"s":"x40","h":13,"v":-17},{"s":"x40","h":14,"v":-15},{"s":"x40","h":15,"v":-16},{"s":"x40","h":16,"v":-17},{"s":"x40","h":17,"v":-16},{"s":"x40","h":18,"v":-17},{"s":"x40","h":19,"v":-18},{"s":"x40","h":20,"v":-16},{"s":"x40","h":21,"v":-17},{"s":"x40","h":22,"v":-16},{"s":"x40","h":23,"v":-17},{"s":"x40","h":23.83,"v":-17.5},
{"s":"x41","h":0,"v":0},{"s":"x41","h":1,"v":-2},{"s":"x41","h":2,"v":-4},{"s":"x41","h":3,"v":-6.5},{"s":"x41","h":4,"v":-9},{"s":"x41","h":5,"v":-12},{"s":"x41","h":6,"v":-15},{"s":"x41","h":7,"v":-14},{"s":"x41","h":8,"v":-13},{"s":"x41","h":9,"v":-12},{"s":"x41","h":10,"v":-13},{"s":"x41","h":11,"v":-12},{"s":"x41","h":12,"v":-14},{"s":"x41","h":13,"v":-15},{"s":"x41","h":14,"v":-16},{"s":"x41","h":15,"v":-15},{"s":"x41","h":16,"v":-17},{"s":"x41","h":17,"v":-18},{"s":"x41","h":18,"v":-19},{"s":"x41","h":19,"v":-20},{"s":"x41","h":20,"v":-18},{"s":"x41","h":21,"v":-19},{"s":"x41","h":22,"v":-17},{"s":"x41","h":23,"v":-15},{"s":"x41","h":23.83,"v":-16},
{"s":"x42","h":0,"v":0},{"s":"x42","h":1,"v":-1.8},{"s":"x42","h":2,"v":-3.6},{"s":"x42","h":3,"v":-5.5},{"s":"x42","h":4,"v":-7.5},{"s":"x42","h":5,"v":-9.5},{"s":"x42","h":6,"v":-11},{"s":"x42","h":7,"v":-13},{"s":"x42","h":8,"v":-15},{"s":"x42","h":9,"v":-16},{"s":"x42","h":10,"v":-14},{"s":"x42","h":11,"v":-15},{"s":"x42","h":12,"v":-17},{"s":"x42","h":13,"v":-16},{"s":"x42","h":14,"v":-15},{"s":"x42","h":15,"v":-14},{"s":"x42","h":16,"v":-16},{"s":"x42","h":17,"v":-17},{"s":"x42","h":18,"v":-18},{"s":"x42","h":19,"v":-19},{"s":"x42","h":20,"v":-20},{"s":"x42","h":21,"v":-20.5},{"s":"x42","h":22,"v":-18},{"s":"x42","h":23,"v":-19},{"s":"x42","h":23.83,"v":-20},
{"s":"x43","h":0,"v":0},{"s":"x43","h":1,"v":-1.5},{"s":"x43","h":2,"v":-3},{"s":"x43","h":3,"v":-6},{"s":"x43","h":4,"v":-8.5},{"s":"x43","h":5,"v":-7},{"s":"x43","h":6,"v":-8.5},{"s":"x43","h":7,"v":-9.5},{"s":"x43","h":8,"v":-8},{"s":"x43","h":9,"v":-10},{"s":"x43","h":10,"v":-11},{"s":"x43","h":11,"v":-9},{"s":"x43","h":12,"v":-10.5},{"s":"x43","h":13,"v":-12},{"s":"x43","h":14,"v":-13},{"s":"x43","h":15,"v":-12},{"s":"x43","h":16,"v":-14},{"s":"x43","h":17,"v":-15},{"s":"x43","h":18,"v":-16},{"s":"x43","h":19,"v":-14},{"s":"x43","h":20,"v":-15.5},{"s":"x43","h":21,"v":-16.5},{"s":"x43","h":22,"v":-17},{"s":"x43","h":23,"v":-16},{"s":"x43","h":23.83,"v":-17},
{"s":"x44","h":0,"v":0},{"s":"x44","h":1,"v":-1.7},{"s":"x44","h":2,"v":-3.3},{"s":"x44","h":3,"v":-5},{"s":"x44","h":4,"v":-6.6},{"s":"x44","h":5,"v":-8.2},{"s":"x44","h":6,"v":-9.5},{"s":"x44","h":7,"v":-11},{"s":"x44","h":8,"v":-12.5},{"s":"x44","h":9,"v":-10},{"s":"x44","h":10,"v":-11.5},{"s":"x44","h":11,"v":-13},{"s":"x44","h":12,"v":-14.5},{"s":"x44","h":13,"v":-16},{"s":"x44","h":14,"v":-17},{"s":"x44","h":15,"v":-15},{"s":"x44","h":16,"v":-13},{"s":"x44","h":17,"v":-14.5},{"s":"x44","h":18,"v":-16},{"s":"x44","h":19,"v":-17.5},{"s":"x44","h":20,"v":-16},{"s":"x44","h":21,"v":-17},{"s":"x44","h":22,"v":-18.5},{"s":"x44","h":23,"v":-17},{"s":"x44","h":23.83,"v":-18},
{"s":"z1","h":0,"v":0},{"s":"z1","h":1,"v":1.5},{"s":"z1","h":2,"v":-0.5},{"s":"z1","h":3,"v":2},{"s":"z1","h":4,"v":0.5},{"s":"z1","h":5,"v":3.5},{"s":"z1","h":6,"v":1},{"s":"z1","h":7,"v":4},{"s":"z1","h":8,"v":2.5},{"s":"z1","h":9,"v":5},{"s":"z1","h":10,"v":3},{"s":"z1","h":11,"v":6.5},{"s":"z1","h":12,"v":4},{"s":"z1","h":13,"v":8},{"s":"z1","h":14,"v":5.5},{"s":"z1","h":15,"v":7},{"s":"z1","h":16,"v":9.5},{"s":"z1","h":17,"v":6.5},{"s":"z1","h":18,"v":10},{"s":"z1","h":19,"v":8},{"s":"z1","h":20,"v":11.5},{"s":"z1","h":21,"v":9},{"s":"z1","h":22,"v":12},{"s":"z1","h":23,"v":10.5},{"s":"z1","h":23.83,"v":11},
{"s":"z2","h":0,"v":0},{"s":"z2","h":1,"v":-1.5},{"s":"z2","h":2,"v":0.5},{"s":"z2","h":3,"v":-2},{"s":"z2","h":4,"v":-0.5},{"s":"z2","h":5,"v":-3},{"s":"z2","h":6,"v":1},{"s":"z2","h":7,"v":-1},{"s":"z2","h":8,"v":-2.5},{"s":"z2","h":9,"v":0.5},{"s":"z2","h":10,"v":-1.5},{"s":"z2","h":11,"v":2},{"s":"z2","h":12,"v":0},{"s":"z2","h":13,"v":-2},{"s":"z2","h":14,"v":1.5},{"s":"z2","h":15,"v":-0.5},{"s":"z2","h":16,"v":3},{"s":"z2","h":17,"v":1},{"s":"z2","h":18,"v":-1},{"s":"z2","h":19,"v":2.5},{"s":"z2","h":20,"v":0.5},{"s":"z2","h":21,"v":-1.5},{"s":"z2","h":22,"v":1},{"s":"z2","h":23,"v":-0.5},{"s":"z2","h":23.83,"v":0.5},
{"s":"z3","h":0,"v":0},{"s":"z3","h":1,"v":-1},{"s":"z3","h":2,"v":1},{"s":"z3","h":3,"v":-1.5},{"s":"z3","h":4,"v":-3},{"s":"z3","h":5,"v":-1},{"s":"z3","h":6,"v":-2.5},{"s":"z3","h":7,"v":-4},{"s":"z3","h":8,"v":-2},{"s":"z3","h":9,"v":-3.5},{"s":"z3","h":10,"v":-5},{"s":"z3","h":11,"v":-3},{"s":"z3","h":12,"v":-4.5},{"s":"z3","h":13,"v":-6},{"s":"z3","h":14,"v":-4},{"s":"z3","h":15,"v":-5.5},{"s":"z3","h":16,"v":-7},{"s":"z3","h":17,"v":-5},{"s":"z3","h":18,"v":-6.5},{"s":"z3","h":19,"v":-8},{"s":"z3","h":20,"v":-6},{"s":"z3","h":21,"v":-7.5},{"s":"z3","h":22,"v":-9},{"s":"z3","h":23,"v":-7},{"s":"z3","h":23.83,"v":-8},
{"s":"z4","h":0,"v":0},{"s":"z4","h":1,"v":2},{"s":"z4","h":2,"v":0.5},{"s":"z4","h":3,"v":3},{"s":"z4","h":4,"v":1.5},{"s":"z4","h":5,"v":0},{"s":"z4","h":6,"v":2.5},{"s":"z4","h":7,"v":1},{"s":"z4","h":8,"v":4},{"s":"z4","h":9,"v":2.5},{"s":"z4","h":10,"v":1},{"s":"z4","h":11,"v":3.5},{"s":"z4","h":12,"v":2},{"s":"z4","h":13,"v":5},{"s":"z4","h":14,"v":3.5},{"s":"z4","h":15,"v":2},{"s":"z4","h":16,"v":4.5},{"s":"z4","h":17,"v":3},{"s":"z4","h":18,"v":6},{"s":"z4","h":19,"v":4.5},{"s":"z4","h":20,"v":3},{"s":"z4","h":21,"v":5.5},{"s":"z4","h":22,"v":4},{"s":"z4","h":23,"v":6.5},{"s":"z4","h":23.83,"v":5.5},
{"s":"z5","h":0,"v":0},{"s":"z5","h":1,"v":-1.2},{"s":"z5","h":2,"v":-2.5},{"s":"z5","h":3,"v":-1},{"s":"z5","h":4,"v":-3},{"s":"z5","h":5,"v":-4.5},{"s":"z5","h":6,"v":-3},{"s":"z5","h":7,"v":-5},{"s":"z5","h":8,"v":-6.5},{"s":"z5","h":9,"v":-5},{"s":"z5","h":10,"v":-7},{"s":"z5","h":11,"v":-8.5},{"s":"z5","h":12,"v":-7},{"s":"z5","h":13,"v":-9},{"s":"z5","h":14,"v":-10.5},{"s":"z5","h":15,"v":-9},{"s":"z5","h":16,"v":-11},{"s":"z5","h":17,"v":-12},{"s":"z5","h":18,"v":-10.5},{"s":"z5","h":19,"v":-12.5},{"s":"z5","h":20,"v":-13.5},{"s":"z5","h":21,"v":-12},{"s":"z5","h":22,"v":-14},{"s":"z5","h":23,"v":-15},{"s":"z5","h":23.83,"v":-14},
{"s":"z6","h":0,"v":0},{"s":"z6","h":1,"v":-0.5},{"s":"z6","h":2,"v":1.5},{"s":"z6","h":3,"v":0},{"s":"z6","h":4,"v":2.5},{"s":"z6","h":5,"v":1},{"s":"z6","h":6,"v":3.5},{"s":"z6","h":7,"v":2},{"s":"z6","h":8,"v":5},{"s":"z6","h":9,"v":3},{"s":"z6","h":10,"v":6},{"s":"z6","h":11,"v":4.5},{"s":"z6","h":12,"v":7.5},{"s":"z6","h":13,"v":5.5},{"s":"z6","h":14,"v":9},{"s":"z6","h":15,"v":7},{"s":"z6","h":16,"v":10.5},{"s":"z6","h":17,"v":8.5},{"s":"z6","h":18,"v":11},{"s":"z6","h":19,"v":9.5},{"s":"z6","h":20,"v":12.5},{"s":"z6","h":21,"v":10.5},{"s":"z6","h":22,"v":13},{"s":"z6","h":23,"v":11.5},{"s":"z6","h":23.83,"v":12.5},
{"s":"z7","h":0,"v":0},{"s":"z7","h":1,"v":-1},{"s":"z7","h":2,"v":0.5},{"s":"z7","h":3,"v":-1.5},{"s":"z7","h":4,"v":-0.5},{"s":"z7","h":5,"v":-2.5},{"s":"z7","h":6,"v":-1},{"s":"z7","h":7,"v":-3},{"s":"z7","h":8,"v":-2},{"s":"z7","h":9,"v":-4},{"s":"z7","h":10,"v":-2.5},{"s":"z7","h":11,"v":-4.5},{"s":"z7","h":12,"v":-3},{"s":"z7","h":13,"v":-5},{"s":"z7","h":14,"v":-3.5},{"s":"z7","h":15,"v":-5.5},{"s":"z7","h":16,"v":-4},{"s":"z7","h":17,"v":-6},{"s":"z7","h":18,"v":-4.5},{"s":"z7","h":19,"v":-6.5},{"s":"z7","h":20,"v":-5},{"s":"z7","h":21,"v":-7},{"s":"z7","h":22,"v":-5.5},{"s":"z7","h":23,"v":-7.5},{"s":"z7","h":23.83,"v":-7},
{"s":"z8","h":0,"v":0},{"s":"z8","h":1,"v":1},{"s":"z8","h":2,"v":-0.5},{"s":"z8","h":3,"v":1.5},{"s":"z8","h":4,"v":0},{"s":"z8","h":5,"v":2},{"s":"z8","h":6,"v":0.5},{"s":"z8","h":7,"v":-1},{"s":"z8","h":8,"v":1.5},{"s":"z8","h":9,"v":0},{"s":"z8","h":10,"v":-1.5},{"s":"z8","h":11,"v":1},{"s":"z8","h":12,"v":-0.5},{"s":"z8","h":13,"v":-2},{"s":"z8","h":14,"v":0.5},{"s":"z8","h":15,"v":-1},{"s":"z8","h":16,"v":-2.5},{"s":"z8","h":17,"v":0},{"s":"z8","h":18,"v":-1.5},{"s":"z8","h":19,"v":-3},{"s":"z8","h":20,"v":-1},{"s":"z8","h":21,"v":-2.5},{"s":"z8","h":22,"v":-4},{"s":"z8","h":23,"v":-2},{"s":"z8","h":23.83,"v":-3},
{"s":"z9","h":0,"v":0},{"s":"z9","h":1,"v":-1},{"s":"z9","h":2,"v":-2},{"s":"z9","h":3,"v":-0.5},{"s":"z9","h":4,"v":-2},{"s":"z9","h":5,"v":-3.5},{"s":"z9","h":6,"v":-2},{"s":"z9","h":7,"v":-4},{"s":"z9","h":8,"v":-5.5},{"s":"z9","h":9,"v":-4},{"s":"z9","h":10,"v":-6},{"s":"z9","h":11,"v":-7.5},{"s":"z9","h":12,"v":-6},{"s":"z9","h":13,"v":-8},{"s":"z9","h":14,"v":-9.5},{"s":"z9","h":15,"v":-8},{"s":"z9","h":16,"v":-10},{"s":"z9","h":17,"v":-11},{"s":"z9","h":18,"v":-9.5},{"s":"z9","h":19,"v":-11.5},{"s":"z9","h":20,"v":-12.5},{"s":"z9","h":21,"v":-11},{"s":"z9","h":22,"v":-13},{"s":"z9","h":23,"v":-14},{"s":"z9","h":23.83,"v":-13},
{"s":"z10","h":0,"v":0},{"s":"z10","h":1,"v":-1},{"s":"z10","h":2,"v":1},{"s":"z10","h":3,"v":-0.5},{"s":"z10","h":4,"v":2},{"s":"z10","h":5,"v":0.5},{"s":"z10","h":6,"v":-1},{"s":"z10","h":7,"v":1.5},{"s":"z10","h":8,"v":0},{"s":"z10","h":9,"v":3},{"s":"z10","h":10,"v":1.5},{"s":"z10","h":11,"v":0},{"s":"z10","h":12,"v":2.5},{"s":"z10","h":13,"v":1},{"s":"z10","h":14,"v":4},{"s":"z10","h":15,"v":2.5},{"s":"z10","h":16,"v":1},{"s":"z10","h":17,"v":5.5},{"s":"z10","h":18,"v":4},{"s":"z10","h":19,"v":2.5},{"s":"z10","h":20,"v":6},{"s":"z10","h":21,"v":4.5},{"s":"z10","h":22,"v":3},{"s":"z10","h":23,"v":7},{"s":"z10","h":23.83,"v":6},
{"s":"z11","h":0,"v":0},{"s":"z11","h":1,"v":0.5},{"s":"z11","h":2,"v":2},{"s":"z11","h":3,"v":1},{"s":"z11","h":4,"v":3},{"s":"z11","h":5,"v":1.5},{"s":"z11","h":6,"v":4},{"s":"z11","h":7,"v":2.5},{"s":"z11","h":8,"v":5.5},{"s":"z11","h":9,"v":4},{"s":"z11","h":10,"v":6.5},{"s":"z11","h":11,"v":5},{"s":"z11","h":12,"v":8},{"s":"z11","h":13,"v":6.5},{"s":"z11","h":14,"v":9.5},{"s":"z11","h":15,"v":8},{"s":"z11","h":16,"v":10.5},{"s":"z11","h":17,"v":9},{"s":"z11","h":18,"v":12},{"s":"z11","h":19,"v":10.5},{"s":"z11","h":20,"v":13},{"s":"z11","h":21,"v":11.5},{"s":"z11","h":22,"v":14},{"s":"z11","h":23,"v":12.5},{"s":"z11","h":23.83,"v":13.5},
{"s":"z12","h":0,"v":0},{"s":"z12","h":1,"v":-1.5},{"s":"z12","h":2,"v":-0.5},{"s":"z12","h":3,"v":-2.5},{"s":"z12","h":4,"v":-1},{"s":"z12","h":5,"v":-3},{"s":"z12","h":6,"v":-4.5},{"s":"z12","h":7,"v":-2.5},{"s":"z12","h":8,"v":-4},{"s":"z12","h":9,"v":-5.5},{"s":"z12","h":10,"v":-3.5},{"s":"z12","h":11,"v":-5},{"s":"z12","h":12,"v":-6.5},{"s":"z12","h":13,"v":-4.5},{"s":"z12","h":14,"v":-6},{"s":"z12","h":15,"v":-7.5},{"s":"z12","h":16,"v":-5.5},{"s":"z12","h":17,"v":-7},{"s":"z12","h":18,"v":-8.5},{"s":"z12","h":19,"v":-6.5},{"s":"z12","h":20,"v":-8},{"s":"z12","h":21,"v":-9.5},{"s":"z12","h":22,"v":-7.5},{"s":"z12","h":23,"v":-9},{"s":"z12","h":23.83,"v":-10},
{"s":"z13","h":0,"v":0},{"s":"z13","h":1,"v":1},{"s":"z13","h":2,"v":-0.5},{"s":"z13","h":3,"v":-2},{"s":"z13","h":4,"v":0},{"s":"z13","h":5,"v":-1.5},{"s":"z13","h":6,"v":-3},{"s":"z13","h":7,"v":-1},{"s":"z13","h":8,"v":-2.5},{"s":"z13","h":9,"v":-4},{"s":"z13","h":10,"v":-2},{"s":"z13","h":11,"v":-3.5},{"s":"z13","h":12,"v":0},{"s":"z13","h":13,"v":-1.5},{"s":"z13","h":14,"v":-3},{"s":"z13","h":15,"v":1},{"s":"z13","h":16,"v":-0.5},{"s":"z13","h":17,"v":-2},{"s":"z13","h":18,"v":2},{"s":"z13","h":19,"v":0.5},{"s":"z13","h":20,"v":-1},{"s":"z13","h":21,"v":3},{"s":"z13","h":22,"v":1.5},{"s":"z13","h":23,"v":0},{"s":"z13","h":23.83,"v":1},
{"s":"z14","h":0,"v":0},{"s":"z14","h":1,"v":-1},{"s":"z14","h":2,"v":-2},{"s":"z14","h":3,"v":-1},{"s":"z14","h":4,"v":-2.5},{"s":"z14","h":5,"v":-4},{"s":"z14","h":6,"v":-3},{"s":"z14","h":7,"v":-4.5},{"s":"z14","h":8,"v":-6},{"s":"z14","h":9,"v":-5},{"s":"z14","h":10,"v":-6.5},{"s":"z14","h":11,"v":-8},{"s":"z14","h":12,"v":-7},{"s":"z14","h":13,"v":-8.5},{"s":"z14","h":14,"v":-10},{"s":"z14","h":15,"v":-9},{"s":"z14","h":16,"v":-10.5},{"s":"z14","h":17,"v":-12},{"s":"z14","h":18,"v":-11},{"s":"z14","h":19,"v":-12.5},{"s":"z14","h":20,"v":-14},{"s":"z14","h":21,"v":-13},{"s":"z14","h":22,"v":-14.5},{"s":"z14","h":23,"v":-16},{"s":"z14","h":23.83,"v":-15},
{"s":"z15","h":0,"v":0},{"s":"z15","h":1,"v":-1},{"s":"z15","h":2,"v":-2},{"s":"z15","h":3,"v":-3},{"s":"z15","h":4,"v":-1.5},{"s":"z15","h":5,"v":-2.5},{"s":"z15","h":6,"v":-3.5},{"s":"z15","h":7,"v":-4.5},{"s":"z15","h":8,"v":-3},{"s":"z15","h":9,"v":-4},{"s":"z15","h":10,"v":-5},{"s":"z15","h":11,"v":-6},{"s":"z15","h":12,"v":-4.5},{"s":"z15","h":13,"v":-5.5},{"s":"z15","h":14,"v":-6.5},{"s":"z15","h":15,"v":-7.5},{"s":"z15","h":16,"v":-6},{"s":"z15","h":17,"v":-7},{"s":"z15","h":18,"v":-8},{"s":"z15","h":19,"v":-9},{"s":"z15","h":20,"v":-7.5},{"s":"z15","h":21,"v":-8.5},{"s":"z15","h":22,"v":-9.5},{"s":"z15","h":23,"v":-10.5},{"s":"z15","h":23.83,"v":-10},
{"s":"z16","h":0,"v":0},{"s":"z16","h":1,"v":-0.5},{"s":"z16","h":2,"v":-1.5},{"s":"z16","h":3,"v":-0.5},{"s":"z16","h":4,"v":-2},{"s":"z16","h":5,"v":-3},{"s":"z16","h":6,"v":-2},{"s":"z16","h":7,"v":-3.5},{"s":"z16","h":8,"v":-4.5},{"s":"z16","h":9,"v":-3.5},{"s":"z16","h":10,"v":-5},{"s":"z16","h":11,"v":-6},{"s":"z16","h":12,"v":-5},{"s":"z16","h":13,"v":-6.5},{"s":"z16","h":14,"v":-7.5},{"s":"z16","h":15,"v":-6.5},{"s":"z16","h":16,"v":-8},{"s":"z16","h":17,"v":-9},{"s":"z16","h":18,"v":-8},{"s":"z16","h":19,"v":-9.5},{"s":"z16","h":20,"v":-10.5},{"s":"z16","h":21,"v":-9.5},{"s":"z16","h":22,"v":-11},{"s":"z16","h":23,"v":-12},{"s":"z16","h":23.83,"v":-11.5},
{"s":"z17","h":0,"v":0},{"s":"z17","h":1,"v":2},{"s":"z17","h":2,"v":1},{"s":"z17","h":3,"v":3.5},{"s":"z17","h":4,"v":2},{"s":"z17","h":5,"v":4.5},{"s":"z17","h":6,"v":3},{"s":"z17","h":7,"v":6},{"s":"z17","h":8,"v":4},{"s":"z17","h":9,"v":7},{"s":"z17","h":10,"v":5.5},{"s":"z17","h":11,"v":8.5},{"s":"z17","h":12,"v":6.5},{"s":"z17","h":13,"v":10},{"s":"z17","h":14,"v":8},{"s":"z17","h":15,"v":11},{"s":"z17","h":16,"v":9},{"s":"z17","h":17,"v":12.5},{"s":"z17","h":18,"v":10.5},{"s":"z17","h":19,"v":13.5},{"s":"z17","h":20,"v":11.5},{"s":"z17","h":21,"v":15},{"s":"z17","h":22,"v":13},{"s":"z17","h":23,"v":16},{"s":"z17","h":23.83,"v":15},
{"s":"z18","h":0,"v":0},{"s":"z18","h":1,"v":-1},{"s":"z18","h":2,"v":-2},{"s":"z18","h":3,"v":0.5},{"s":"z18","h":4,"v":-1},{"s":"z18","h":5,"v":-2.5},{"s":"z18","h":6,"v":-4},{"s":"z18","h":7,"v":-1.5},{"s":"z18","h":8,"v":-3},{"s":"z18","h":9,"v":-4.5},{"s":"z18","h":10,"v":-6},{"s":"z18","h":11,"v":-3},{"s":"z18","h":12,"v":-4.5},{"s":"z18","h":13,"v":-6},{"s":"z18","h":14,"v":-7.5},{"s":"z18","h":15,"v":-4},{"s":"z18","h":16,"v":-5.5},{"s":"z18","h":17,"v":-7},{"s":"z18","h":18,"v":-8.5},{"s":"z18","h":19,"v":-5},{"s":"z18","h":20,"v":-6.5},{"s":"z18","h":21,"v":-8},{"s":"z18","h":22,"v":-9.5},{"s":"z18","h":23,"v":-7},{"s":"z18","h":23.83,"v":-8},
{"s":"z19","h":0,"v":0},{"s":"z19","h":1,"v":1.5},{"s":"z19","h":2,"v":0},{"s":"z19","h":3,"v":2.5},{"s":"z19","h":4,"v":1},{"s":"z19","h":5,"v":-0.5},{"s":"z19","h":6,"v":2},{"s":"z19","h":7,"v":0.5},{"s":"z19","h":8,"v":-1},{"s":"z19","h":9,"v":1.5},{"s":"z19","h":10,"v":0},{"s":"z19","h":11,"v":-1.5},{"s":"z19","h":12,"v":1},{"s":"z19","h":13,"v":-0.5},{"s":"z19","h":14,"v":-2},{"s":"z19","h":15,"v":0.5},{"s":"z19","h":16,"v":-1},{"s":"z19","h":17,"v":-2.5},{"s":"z19","h":18,"v":0},{"s":"z19","h":19,"v":-1.5},{"s":"z19","h":20,"v":-3},{"s":"z19","h":21,"v":-0.5},{"s":"z19","h":22,"v":-2},{"s":"z19","h":23,"v":-3.5},{"s":"z19","h":23.83,"v":-2.5},
{"s":"z20","h":0,"v":0},{"s":"z20","h":1,"v":1},{"s":"z20","h":2,"v":2.5},{"s":"z20","h":3,"v":1.5},{"s":"z20","h":4,"v":3.5},{"s":"z20","h":5,"v":2.5},{"s":"z20","h":6,"v":4.5},{"s":"z20","h":7,"v":3},{"s":"z20","h":8,"v":5.5},{"s":"z20","h":9,"v":4},{"s":"z20","h":10,"v":6.5},{"s":"z20","h":11,"v":5},{"s":"z20","h":12,"v":7.5},{"s":"z20","h":13,"v":6},{"s":"z20","h":14,"v":8.5},{"s":"z20","h":15,"v":7},{"s":"z20","h":16,"v":9.5},{"s":"z20","h":17,"v":8},{"s":"z20","h":18,"v":10.5},{"s":"z20","h":19,"v":9},{"s":"z20","h":20,"v":11.5},{"s":"z20","h":21,"v":10},{"s":"z20","h":22,"v":12.5},{"s":"z20","h":23,"v":11},{"s":"z20","h":23.83,"v":12},
{"s":"d1","h":0,"v":0},{"s":"d1","h":1,"v":-0.8},{"s":"d1","h":2,"v":-1.5},{"s":"d1","h":3,"v":-2.3},{"s":"d1","h":4,"v":-3},{"s":"d1","h":5,"v":-3.8},{"s":"d1","h":6,"v":-4.5},{"s":"d1","h":7,"v":-2},{"s":"d1","h":8,"v":-3},{"s":"d1","h":9,"v":-3.8},{"s":"d1","h":10,"v":-5},{"s":"d1","h":11,"v":-2},{"s":"d1","h":12,"v":0},{"s":"d1","h":13,"v":3},{"s":"d1","h":14,"v":6},{"s":"d1","h":14.5,"v":8},{"s":"d1","h":15.3,"v":14},{"s":"d1","h":16,"v":16},{"s":"d1","h":17,"v":18},{"s":"d1","h":18,"v":22},{"s":"d1","h":19,"v":21},{"s":"d1","h":20,"v":23},{"s":"d1","h":21,"v":22},{"s":"d1","h":22,"v":20},{"s":"d1","h":23,"v":19},{"s":"d1","h":23.83,"v":18},
{"s":"g2","h":0,"v":0},{"s":"g2","h":1,"v":-0.8},{"s":"g2","h":2,"v":-1.5},{"s":"g2","h":3,"v":-2.2},{"s":"g2","h":4,"v":-3},{"s":"g2","h":5,"v":-1.5},{"s":"g2","h":6,"v":-2},{"s":"g2","h":7,"v":-3},{"s":"g2","h":8,"v":-4},{"s":"g2","h":9,"v":-3},{"s":"g2","h":10,"v":-2},{"s":"g2","h":11,"v":-1},{"s":"g2","h":12,"v":1},{"s":"g2","h":13,"v":3},{"s":"g2","h":14,"v":2},{"s":"g2","h":14.5,"v":10},{"s":"g2","h":15,"v":16},{"s":"g2","h":15.4,"v":20},{"s":"g2","h":16,"v":19},{"s":"g2","h":17,"v":18},{"s":"g2","h":18,"v":17},{"s":"g2","h":19,"v":15.5},{"s":"g2","h":20,"v":15},{"s":"g2","h":21,"v":14},{"s":"g2","h":22,"v":15},{"s":"g2","h":23,"v":16},{"s":"g2","h":23.83,"v":17.5},
{"s":"k1","h":0,"v":0},{"s":"k1","h":1,"v":-0.5},{"s":"k1","h":2,"v":-1.2},{"s":"k1","h":3,"v":0.5},{"s":"k1","h":3.4,"v":3},{"s":"k1","h":3.8,"v":9},{"s":"k1","h":4.1,"v":12.5},{"s":"k1","h":4.4,"v":13.5},{"s":"k1","h":4.7,"v":12.8},{"s":"k1","h":5.1,"v":12},{"s":"k1","h":5.4,"v":11.5},{"s":"k1","h":5.7,"v":10},{"s":"k1","h":6.2,"v":9.5},{"s":"k1","h":6.8,"v":8},{"s":"k1","h":7.3,"v":9},{"s":"k1","h":8,"v":7},{"s":"k1","h":9,"v":8.5},{"s":"k1","h":10,"v":6},{"s":"k1","h":11,"v":9},{"s":"k1","h":12,"v":8},{"s":"k1","h":13,"v":5},{"s":"k1","h":14,"v":6},{"s":"k1","h":15,"v":3},{"s":"k1","h":16,"v":2},{"s":"k1","h":17,"v":-1},{"s":"k1","h":18,"v":-2.5},{"s":"k1","h":19,"v":-1},{"s":"k1","h":20,"v":-3},{"s":"k1","h":21,"v":-2},{"s":"k1","h":22,"v":-4},{"s":"k1","h":23,"v":-6},{"s":"k1","h":23.83,"v":-5},
{"s":"k2","h":0,"v":0},{"s":"k2","h":1,"v":0.5},{"s":"k2","h":2,"v":1},{"s":"k2","h":3,"v":0},{"s":"k2","h":4,"v":2},{"s":"k2","h":5,"v":1.5},{"s":"k2","h":6,"v":3},{"s":"k2","h":7,"v":2},{"s":"k2","h":8,"v":5},{"s":"k2","h":9,"v":4},{"s":"k2","h":10,"v":4},{"s":"k2","h":11,"v":3},{"s":"k2","h":12,"v":2},{"s":"k2","h":13,"v":0},{"s":"k2","h":14,"v":-2},{"s":"k2","h":15,"v":-4},{"s":"k2","h":16,"v":-5},{"s":"k2","h":17,"v":-7},{"s":"k2","h":18,"v":-9.5},{"s":"k2","h":18.3,"v":-5.6},{"s":"k2","h":19,"v":-6.5},{"s":"k2","h":20,"v":-8},{"s":"k2","h":21,"v":-9.5},{"s":"k2","h":22,"v":-11},{"s":"k2","h":23,"v":-14},{"s":"k2","h":23.83,"v":-15},
{"s":"s1","h":0,"v":0},{"s":"s1","h":1,"v":-1},{"s":"s1","h":2,"v":-2},{"s":"s1","h":3,"v":-1},{"s":"s1","h":4,"v":-2.5},{"s":"s1","h":5,"v":-4},{"s":"s1","h":6,"v":-3},{"s":"s1","h":7,"v":-5},{"s":"s1","h":8,"v":-6.5},{"s":"s1","h":9.1,"v":-9},{"s":"s1","h":23.83,"v":-9},
{"s":"y2","h":0,"v":5},{"s":"y2","h":0.3,"v":7.6},{"s":"y2","h":0.6,"v":8},{"s":"y2","h":1,"v":7},{"s":"y2","h":1.5,"v":9},{"s":"y2","h":2,"v":8},{"s":"y2","h":2.5,"v":7},{"s":"y2","h":3,"v":6},{"s":"y2","h":3.5,"v":7.5},{"s":"y2","h":4,"v":6.5},{"s":"y2","h":5,"v":5},{"s":"y2","h":5.5,"v":7},{"s":"y2","h":6,"v":6},{"s":"y2","h":7,"v":4.5},{"s":"y2","h":8,"v":3},{"s":"y2","h":9,"v":4.5},{"s":"y2","h":10,"v":3},{"s":"y2","h":11,"v":1.5},{"s":"y2","h":12,"v":0},{"s":"y2","h":13,"v":2},{"s":"y2","h":14,"v":1},{"s":"y2","h":15,"v":0.4},{"s":"y2","h":23.83,"v":0.4},
{"s":"b4","h":0,"v":0},{"s":"b4","h":0.5,"v":-0.6},{"s":"b4","h":1.2,"v":0},{"s":"b4","h":23.83,"v":0},
{"s":"b5","h":0,"v":0},{"s":"b5","h":0.5,"v":0.8},{"s":"b5","h":1,"v":-0.3},{"s":"b5","h":1.2,"v":1.3},{"s":"b5","h":23.83,"v":1.3},
{"s":"b2","h":0,"v":9.5},{"s":"b2","h":0.4,"v":9.6},{"s":"b2","h":0.7,"v":11.2},{"s":"b2","h":1.3,"v":11.2},{"s":"b2","h":1.55,"v":10.2},{"s":"b2","h":1.76,"v":13.7},{"s":"b2","h":2.26,"v":12.8},{"s":"b2","h":2.47,"v":12.4},{"s":"b2","h":3.02,"v":10.3},{"s":"b2","h":3.31,"v":10.4},{"s":"b2","h":3.52,"v":15.1},{"s":"b2","h":3.81,"v":14.3},{"s":"b2","h":4.02,"v":14.7},{"s":"b2","h":4.44,"v":13.1},{"s":"b2","h":4.86,"v":11.6},{"s":"b2","h":5.5,"v":9.5},{"s":"b2","h":6,"v":8.5},{"s":"b2","h":6.5,"v":7.5},{"s":"b2","h":7,"v":6.5},{"s":"b2","h":7.5,"v":8},{"s":"b2","h":8,"v":7},{"s":"b2","h":9,"v":5.5},{"s":"b2","h":10,"v":4},{"s":"b2","h":10.5,"v":7},{"s":"b2","h":11,"v":6},{"s":"b2","h":12,"v":4.5},{"s":"b2","h":13,"v":3},{"s":"b2","h":14,"v":1.5},{"s":"b2","h":14.5,"v":4},{"s":"b2","h":15,"v":3},{"s":"b2","h":16,"v":1.5},{"s":"b2","h":17,"v":0},{"s":"b2","h":18,"v":-1.5},{"s":"b2","h":19,"v":-3},{"s":"b2","h":19.5,"v":0},{"s":"b2","h":20,"v":-1},{"s":"b2","h":21,"v":-2.5},{"s":"b2","h":22,"v":-4},{"s":"b2","h":23,"v":-5.5},{"s":"b2","h":23.83,"v":-6.5},
{"s":"b3","h":0,"v":0},{"s":"b3","h":1,"v":1},{"s":"b3","h":2,"v":-0.5},{"s":"b3","h":3,"v":1.5},{"s":"b3","h":4,"v":3},{"s":"b3","h":5,"v":6},{"s":"b3","h":5.5,"v":9},{"s":"b3","h":5.93,"v":14.7},{"s":"b3","h":6.5,"v":13.1},{"s":"b3","h":6.79,"v":17.6},{"s":"b3","h":7.29,"v":17.8},{"s":"b3","h":8.04,"v":18.2},{"s":"b3","h":8.63,"v":16.6},{"s":"b3","h":9.09,"v":15.1},{"s":"b3","h":9.59,"v":17},{"s":"b3","h":9.8,"v":20.5},{"s":"b3","h":10.3,"v":21.8},{"s":"b3","h":10.56,"v":21},{"s":"b3","h":10.98,"v":19.5},{"s":"b3","h":11.39,"v":21},{"s":"b3","h":11.81,"v":21.6},{"s":"b3","h":12.1,"v":20.1},{"s":"b3","h":12.4,"v":21},{"s":"b3","h":12.65,"v":20.5},{"s":"b3","h":13.07,"v":20.1},{"s":"b3","h":13.45,"v":22},{"s":"b3","h":13.82,"v":20.5},{"s":"b3","h":14.5,"v":23.4},{"s":"b3","h":15,"v":22.4},{"s":"b3","h":15.4,"v":20.5},{"s":"b3","h":16.1,"v":18.9},{"s":"b3","h":17,"v":18},{"s":"b3","h":17.6,"v":17.6},{"s":"b3","h":18.5,"v":16},{"s":"b3","h":19,"v":17},{"s":"b3","h":20,"v":15.5},{"s":"b3","h":21,"v":16.5},{"s":"b3","h":22,"v":14},{"s":"b3","h":23,"v":13},{"s":"b3","h":23.83,"v":12},
{"s":"r1","h":0,"v":0},{"s":"r1","h":1,"v":-1},{"s":"r1","h":2,"v":-2},{"s":"r1","h":3,"v":-0.5},{"s":"r1","h":4,"v":-1.5},{"s":"r1","h":5,"v":-2.5},{"s":"r1","h":6,"v":-3.5},{"s":"r1","h":6.5,"v":-1},{"s":"r1","h":6.66,"v":10.4},{"s":"r1","h":6.8,"v":16.2},{"s":"r1","h":7,"v":18.9},{"s":"r1","h":7.5,"v":19.7},{"s":"r1","h":7.6,"v":20.5},{"s":"r1","h":7.92,"v":21.4},{"s":"r1","h":8.21,"v":23},{"s":"r1","h":8.33,"v":24.7},{"s":"r1","h":8.54,"v":27.6},{"s":"r1","h":9.05,"v":25.3},{"s":"r1","h":9.72,"v":22.8},{"s":"r1","h":10.56,"v":20.1},{"s":"r1","h":11.14,"v":18.2},{"s":"r1","h":11.56,"v":17.2},{"s":"r1","h":11.81,"v":18},{"s":"r1","h":12.1,"v":20.1},{"s":"r1","h":12.44,"v":20.5},{"s":"r1","h":13.07,"v":18.9},{"s":"r1","h":13.49,"v":17},{"s":"r1","h":14.2,"v":18.2},{"s":"r1","h":14.75,"v":17},{"s":"r1","h":15.5,"v":15.5},{"s":"r1","h":16,"v":14},{"s":"r1","h":16.5,"v":18},{"s":"r1","h":17,"v":17},{"s":"r1","h":17.5,"v":16},{"s":"r1","h":18,"v":15},{"s":"r1","h":19,"v":13.5},{"s":"r1","h":19.5,"v":17},{"s":"r1","h":20,"v":16},{"s":"r1","h":21,"v":14.5},{"s":"r1","h":22,"v":13},{"s":"r1","h":22.5,"v":16},{"s":"r1","h":23,"v":15},{"s":"r1","h":23.83,"v":14},
{"s":"m1","h":0,"v":5.5},{"s":"m1","h":0.6,"v":6.2},{"s":"m1","h":1.3,"v":4.8},{"s":"m1","h":1.5,"v":16},{"s":"m1","h":2.27,"v":17},{"s":"m1","h":2.77,"v":15.3},{"s":"m1","h":3.31,"v":14.3},{"s":"m1","h":3.56,"v":14.3},{"s":"m1","h":3.81,"v":22.8},{"s":"m1","h":4.27,"v":21.4},{"s":"m1","h":4.57,"v":22},{"s":"m1","h":5.11,"v":20.9},{"s":"m1","h":5.53,"v":20.1},{"s":"m1","h":5.74,"v":20.1},{"s":"m1","h":6.03,"v":24},{"s":"m1","h":6.53,"v":22},{"s":"m1","h":7.37,"v":19.9},{"s":"m1","h":7.62,"v":20.1},{"s":"m1","h":8.04,"v":21.8},{"s":"m1","h":8.46,"v":20.9},{"s":"m1","h":9.17,"v":20.5},{"s":"m1","h":9.72,"v":19.5},{"s":"m1","h":10.14,"v":20.1},{"s":"m1","h":10.56,"v":20.1},{"s":"m1","h":11.14,"v":21.4},{"s":"m1","h":11.35,"v":22.8},{"s":"m1","h":11.56,"v":27.8},{"s":"m1","h":11.81,"v":30.5},{"s":"m1","h":12.23,"v":29.2},{"s":"m1","h":12.82,"v":26.9},{"s":"m1","h":13.07,"v":28.6},{"s":"m1","h":13.45,"v":28.2},{"s":"m1","h":13.87,"v":29.9},{"s":"m1","h":14.2,"v":29.6},{"s":"m1","h":14.75,"v":28.8},{"s":"m1","h":15.46,"v":27.6},{"s":"m1","h":15.79,"v":26.7},{"s":"m1","h":16.09,"v":28.8},{"s":"m1","h":16.59,"v":28.4},{"s":"m1","h":17.05,"v":27.8},{"s":"m1","h":17.68,"v":26.3},{"s":"m1","h":18.52,"v":24},{"s":"m1","h":18.94,"v":26.3},{"s":"m1","h":19.65,"v":25.3},{"s":"m1","h":20.07,"v":25.9},{"s":"m1","h":20.49,"v":25.7},{"s":"m1","h":21.11,"v":25.3},{"s":"m1","h":21.62,"v":26.3},{"s":"m1","h":22.04,"v":24.7},{"s":"m1","h":22.16,"v":25.9},{"s":"m1","h":22.87,"v":23.8},{"s":"m1","h":23.54,"v":23.4},{"s":"m1","h":23.83,"v":22.4},
{"s":"y1","h":0,"v":0},{"s":"y1","h":1,"v":-1.2},{"s":"y1","h":2,"v":-2.5},{"s":"y1","h":3,"v":-3.5},{"s":"y1","h":4,"v":-5},{"s":"y1","h":5,"v":-6.5},{"s":"y1","h":6,"v":-8},{"s":"y1","h":7,"v":-10},{"s":"y1","h":8,"v":-12.5},{"s":"y1","h":9,"v":-15},{"s":"y1","h":9.59,"v":-16.6},{"s":"y1","h":10.43,"v":-17.8},{"s":"y1","h":10.85,"v":-19.1},{"s":"y1","h":11.4,"v":-20.7},{"s":"y1","h":11.81,"v":-21.1},{"s":"y1","h":12.32,"v":-21.6},{"s":"y1","h":12.65,"v":-22.4},{"s":"y1","h":13.24,"v":-23.6},{"s":"y1","h":13.7,"v":-24},{"s":"y1","h":14.08,"v":-23.4},{"s":"y1","h":14.5,"v":-24.3},{"s":"y1","h":15.04,"v":-25.3},{"s":"y1","h":15.33,"v":-24.3},{"s":"y1","h":15.79,"v":-26.3},{"s":"y1","h":16.09,"v":-23.4},{"s":"y1","h":16.59,"v":-24},{"s":"y1","h":16.84,"v":-25.3},{"s":"y1","h":17.13,"v":-23.2},{"s":"y1","h":17.34,"v":-24},{"s":"y1","h":17.55,"v":-20.5},{"s":"y1","h":17.85,"v":-20.1},{"s":"y1","h":18.1,"v":-18.2},{"s":"y1","h":18.52,"v":-17.2},{"s":"y1","h":18.81,"v":-16.2},{"s":"y1","h":19.5,"v":-14.5},{"s":"y1","h":20,"v":-15},{"s":"y1","h":21,"v":-14},{"s":"y1","h":22,"v":-15.5},{"s":"y1","h":22.5,"v":-14},{"s":"y1","h":23,"v":-15},{"s":"y1","h":23.83,"v":-16},
{"s":"b1","h":0,"v":0},{"s":"b1","h":1,"v":-0.8},{"s":"b1","h":2,"v":1.5},{"s":"b1","h":3,"v":0.7},{"s":"b1","h":4,"v":-0.5},{"s":"b1","h":5,"v":1},{"s":"b1","h":6,"v":-0.5},{"s":"b1","h":7,"v":1.8},{"s":"b1","h":8,"v":0.5},{"s":"b1","h":9,"v":2.5},{"s":"b1","h":10,"v":1.5},{"s":"b1","h":11,"v":4},{"s":"b1","h":12,"v":3},{"s":"b1","h":13,"v":6.5},{"s":"b1","h":13.5,"v":5.5},{"s":"b1","h":14,"v":9},{"s":"b1","h":14.5,"v":8},{"s":"b1","h":15,"v":13},{"s":"b1","h":15.5,"v":12.5},{"s":"b1","h":16,"v":15},{"s":"b1","h":16.5,"v":17},{"s":"b1","h":17,"v":19},{"s":"b1","h":17.5,"v":21.5},{"s":"b1","h":17.97,"v":24},{"s":"b1","h":18.5,"v":23.6},{"s":"b1","h":19.35,"v":21.8},{"s":"b1","h":19.77,"v":24.3},{"s":"b1","h":20.36,"v":27.2},{"s":"b1","h":20.7,"v":25.5},{"s":"b1","h":20.99,"v":26.3},{"s":"b1","h":21.53,"v":26.9},{"s":"b1","h":21.74,"v":35.6},{"s":"b1","h":21.87,"v":35},{"s":"b1","h":22.08,"v":35.4},{"s":"b1","h":22.37,"v":39.2},{"s":"b1","h":23,"v":38.5},{"s":"b1","h":23.21,"v":39.4},{"s":"b1","h":23.54,"v":39.8},{"s":"b1","h":23.83,"v":39.8},
{"s":"g1","h":0,"v":0},{"s":"g1","h":0.5,"v":2.7},{"s":"g1","h":0.7,"v":10.4},{"s":"g1","h":1.47,"v":10.2},{"s":"g1","h":1.76,"v":16.2},{"s":"g1","h":2.26,"v":15.5},{"s":"g1","h":2.76,"v":25.9},{"s":"g1","h":3.39,"v":31.5},{"s":"g1","h":3.6,"v":31.7},{"s":"g1","h":4.06,"v":30.3},{"s":"g1","h":4.52,"v":29.6},{"s":"g1","h":4.78,"v":33.6},{"s":"g1","h":5.28,"v":32.1},{"s":"g1","h":5.82,"v":31.7},{"s":"g1","h":6.37,"v":35},{"s":"g1","h":6.79,"v":35},{"s":"g1","h":7.29,"v":33.4},{"s":"g1","h":7.58,"v":34.4},{"s":"g1","h":8.04,"v":34.6},{"s":"g1","h":8.29,"v":37.1},{"s":"g1","h":8.88,"v":35.6},{"s":"g1","h":9.59,"v":33.6},{"s":"g1","h":10.14,"v":35},{"s":"g1","h":10.6,"v":36.1},{"s":"g1","h":11.14,"v":34.4},{"s":"g1","h":11.69,"v":33},{"s":"g1","h":12.53,"v":30},{"s":"g1","h":12.82,"v":31.9},{"s":"g1","h":13.78,"v":28.2},{"s":"g1","h":14.08,"v":37.3},{"s":"g1","h":15.25,"v":33.6},{"s":"g1","h":15.79,"v":37.5},{"s":"g1","h":16.3,"v":38.8},{"s":"g1","h":16.84,"v":45.6},{"s":"g1","h":17.55,"v":43.3},{"s":"g1","h":18.06,"v":44.6},{"s":"g1","h":18.52,"v":43.3},{"s":"g1","h":18.81,"v":44.1},{"s":"g1","h":19.31,"v":42.3},{"s":"g1","h":20.07,"v":41.2},{"s":"g1","h":20.6,"v":40.4},{"s":"g1","h":21.32,"v":38.3},{"s":"g1","h":21.62,"v":38.8},{"s":"g1","h":21.83,"v":43.1},{"s":"g1","h":22.45,"v":42.7},{"s":"g1","h":22.79,"v":42.3},{"s":"g1","h":23.33,"v":44.1},{"s":"g1","h":23.71,"v":44.4},{"s":"g1","h":23.83,"v":44.1}
]},
"layer":[
{"mark":{"type":"line","strokeWidth":1},
"encoding":{
"x":{"field":"h","type":"quantitative","scale":{"domain":[0,23.83],"nice":false,"zero":false},"axis":{"orient":"bottom","title":"Hour of Day","values":[0,1,2,3,4,5,6,7,8,9,10,11,12,13,14,15,16,17,18,19,20,21,22,23],"titlePadding":2}},
"y":{"field":"v","type":"quantitative","scale":{"domain":[-30,50],"nice":false,"zero":false},"axis":{"orient":"left","title":"Cumulative (Z*Z)-1","values":[-30,-20,-10,0,10,20,30,40,50],"titlePadding":5}},
"color":{"field":"s","type":"nominal","legend":null,"scale":{
"domain":["x1","x2","x3","x4","x5","x6","x7","x8","x9","x10","x11","x12","x13","x14","x15","x16","x17","x18","x19","x20","x21","x22","x23","x24","x25","x26","x27","x28","x29","x30","x31","x32","x33","x34","x35","x36","x37","x38","x39","x40","x41","x42","x43","x44","z1","z2","z3","z4","z5","z6","z7","z8","z9","z10","z11","z12","z13","z14","z15","z16","z17","z18","z19","z20","d1","g2","k1","k2","s1","y2","b4","b5","b2","b3","r1","m1","y1","b1","g1"],
"range":["#ff0000","#00a000","#0000ff","#ff5fff","#5fffff","#a00000","#ffff00","#000000","#5f5fff","#ff0000","#00a000","#0000ff","#ff5fff","#5fffff","#a00000","#ffff00","#000000","#5f5fff","#ff0000","#00a000","#0000ff","#ff5fff","#5fffff","#a00000","#ffff00","#000000","#5f5fff","#ff0000","#00a000","#0000ff","#ff5fff","#5fffff","#a00000","#ffff00","#ff0000","#00a000","#ff0000","#0000ff","#ff5fff","#5fffff","#00a000","#0000ff","#ff0000","#5f5fff","#ff0000","#0000ff","#00a000","#ff5fff","#5fffff","#a00000","#ffff00","#000000","#5f5fff","#ff0000","#00a000","#0000ff","#a00000","#ff5fff","#a00000","#5fffff","#0000ff","#ff0000","#00a000","#5f5fff","#a00000","#00a000","#000000","#000000","#5f5fff","#ffff00","#0000ff","#0000ff","#0000ff","#0000ff","#ff0000","#ff5fff","#ffff00","#0000ff","#00a000"]}}
}},
{"data":{"values":[{"h":0,"v":-30},{"h":23.83,"v":50}]},
"mark":{"type":"point","opacity":0},
"encoding":{
"x":{"field":"h","type":"quantitative","axis":{"orient":"top","title":null,"labels":false,"values":[0,1,2,3,4,5,6,7,8,9,10,11,12,13,14,15,16,17,18,19,20,21,22,23]}},
"y":{"field":"v","type":"quantitative","axis":{"orient":"right","title":null,"labels":false,"values":[-30,-20,-10,0,10,20,30,40,50]}}
}}
],
"resolve":{"axis":{"x":"independent","y":"independent"}}
}
